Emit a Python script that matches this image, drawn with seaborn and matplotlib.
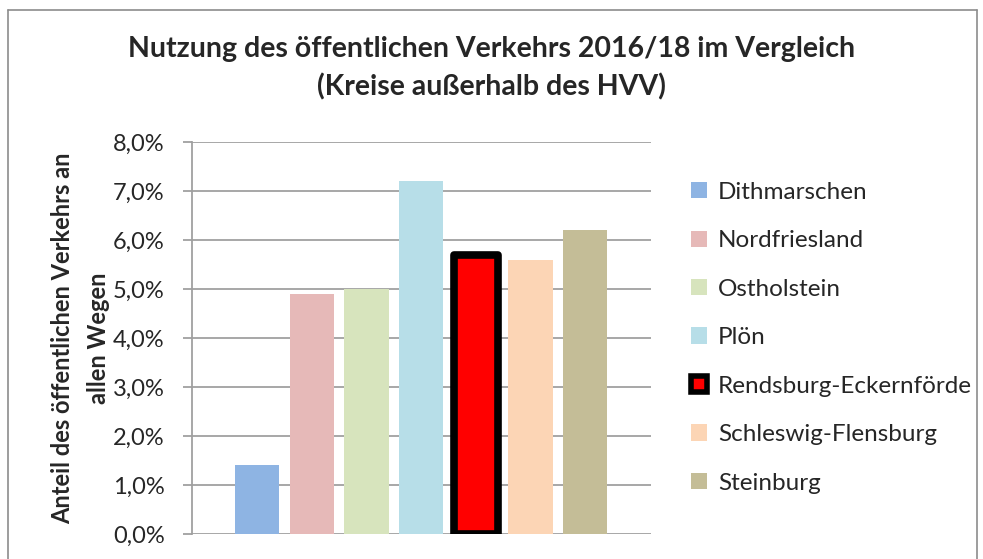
import matplotlib
matplotlib.use("Agg")
import matplotlib.pyplot as plt
from matplotlib.patches import Patch
from matplotlib.lines import Line2D
from matplotlib.ticker import FuncFormatter
import seaborn as sns

# Daten (Anteil in %)
kreise = ["Dithmarschen", "Nordfriesland", "Ostholstein", "Plön",
          "Rendsburg-Eckernförde", "Schleswig-Flensburg", "Steinburg"]
anteil = [1.4, 4.9, 5.0, 7.2, 5.7, 5.6, 6.2]
farben = ["#8EB4E3", "#E6B9B8", "#D7E4BD", "#B7DEE8",
          "#FF0000", "#FCD5B5", "#C4BD97"]
y_ticks = [0, 1, 2, 3, 4, 5, 6, 7, 8]

sns.set_style("white")
plt.rcParams["font.family"] = ["Lato", "DejaVu Sans"]

fig = plt.figure(figsize=(9.83, 5.59), dpi=100)
ax = fig.add_axes([0.195, 0.0447, 0.467, 0.701])

sns.barplot(x=kreise, y=anteil, hue=kreise, palette=farben,
            legend=False, width=0.81, saturation=1, linewidth=0, ax=ax)

# hervorgehobener Balken
hl = ax.containers[4][0]
hl.set_edgecolor("black")
hl.set_linewidth(5.5)
hl.set_joinstyle("round")
hl.set_zorder(4)

ax.set_xlim(-1.2, 7.2)
ax.set_ylim(0, 8)
ax.set_yticks(y_ticks)
ax.yaxis.set_major_formatter(FuncFormatter(lambda v, p: f"{v:.1f}%".replace(".", ",")))
ax.set_xticks([])
ax.grid(axis="y", color="#A0A0A0", linewidth=1.3)
ax.set_axisbelow(True)
for s in ["top", "right", "bottom"]:
    ax.spines[s].set_visible(False)
ax.spines["left"].set_color("#A0A0A0")
ax.spines["left"].set_linewidth(1.3)
ax.tick_params(axis="y", length=6.5, width=1.3, color="#A0A0A0",
               labelsize=17, pad=13, left=True)

ax.set_ylabel("Anteil des öffentlichen Verkehrs an\nallen Wegen",
              fontsize=17, fontweight="bold", linespacing=1.7)
ax.yaxis.set_label_coords(-0.178, 0.5)

fig.suptitle("Nutzung des öffentlichen Verkehrs 2016/18 im Vergleich\n(Kreise außerhalb des HVV)",
             fontsize=20.5, fontweight="bold", y=0.935, linespacing=1.5)

handles = []
for name, c in zip(kreise, farben):
    if name == "Rendsburg-Eckernförde":
        handles.append(Patch(facecolor=c, edgecolor="black", linewidth=4))
    else:
        handles.append(Patch(facecolor=c, edgecolor="none"))
fig.legend(handles, kreise, loc="center left", bbox_to_anchor=(0.703, 0.396),
           frameon=False, fontsize=17.5, handlelength=0.65, handleheight=0.65,
           handletextpad=0.45, labelspacing=1.13, borderpad=0, borderaxespad=0)

# Rahmen des Diagramms
rc = "#8C8C8C"
fig.add_artist(Line2D([8 / 983, 8 / 983], [0, 1 - 10 / 559], color=rc, lw=1.2))
fig.add_artist(Line2D([977 / 983, 977 / 983], [0, 1 - 10 / 559], color=rc, lw=1.2))
fig.add_artist(Line2D([8 / 983, 977 / 983], [1 - 10 / 559, 1 - 10 / 559], color=rc, lw=1.2))

fig.savefig("out.png", dpi=100)
